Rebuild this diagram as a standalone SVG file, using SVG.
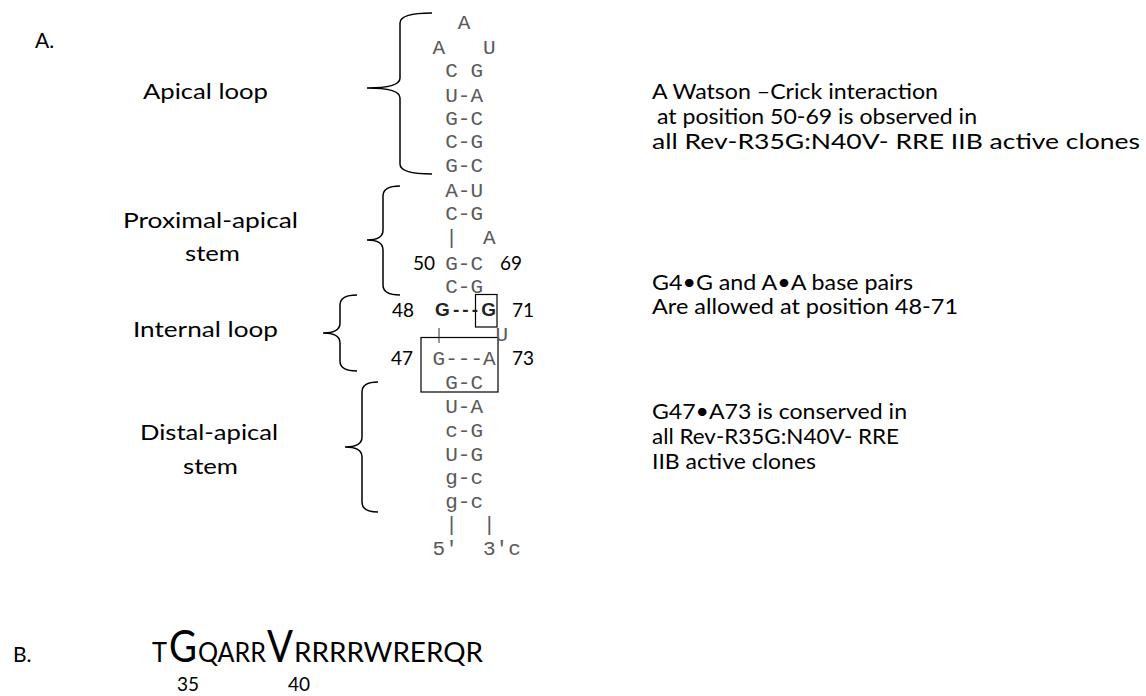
<svg xmlns="http://www.w3.org/2000/svg" width="1146" height="696" viewBox="0 0 1146 696">
<style>
.lbl{font-family:Lato,"Liberation Sans",sans-serif;font-size:21px;fill:#000}
.num{font-family:Lato,"Liberation Sans",sans-serif;font-size:19px;fill:#000}
.seq{font-family:"Liberation Mono","DejaVu Sans Mono",monospace;font-size:21px;fill:#5a5a5a}
.bold{font-family:"Liberation Sans",Arial,sans-serif;font-size:19px;font-weight:bold;fill:#222}
.brace{fill:none;stroke:#000;stroke-width:1.5}
.box{fill:#fff;stroke:#000;stroke-width:1.2}
.bigB{font-family:Lato,"Liberation Sans",sans-serif;fill:#000}
</style>
<rect width="1146" height="696" fill="#fff"/>

<text class="lbl" x="35" y="48">A.</text>
<text class="lbl" x="13" y="662">B.</text>

<g id="braces">
<path class="brace" d="M432,13 Q400,13 400,23 L400,78 Q400,88 367,88 Q400,88 400,98 L400,164 Q400,174 432,174"/>
<path class="brace" d="M400,186 Q383,186 383,196 L383,230 Q383,240 367,240 Q383,240 383,250 L383,285 Q383,295 400,295"/>
<path class="brace" d="M357,295 Q340,295 340,305 L340,323 Q340,333 323,333 Q340,333 340,343 L340,361 Q340,371 357,371"/>
<path class="brace" d="M378,382 Q362,382 362,392 L362,437 Q362,447 345,447 Q362,447 362,457 L362,502 Q362,512 378,512"/>
</g>

<g id="labels-left">
<text class="lbl" x="143" y="99" textLength="125" lengthAdjust="spacingAndGlyphs">Apical loop</text>
<text class="lbl" x="123" y="228" textLength="175" lengthAdjust="spacingAndGlyphs">Proximal-apical</text>
<text class="lbl" x="185" y="261" textLength="55" lengthAdjust="spacingAndGlyphs">stem</text>
<text class="lbl" x="133" y="337" textLength="145" lengthAdjust="spacingAndGlyphs">Internal loop</text>
<text class="lbl" x="140" y="440" textLength="138" lengthAdjust="spacingAndGlyphs">Distal-apical</text>
<text class="lbl" x="183" y="474" textLength="55" lengthAdjust="spacingAndGlyphs">stem</text>
</g>

<g id="boxes">
<rect class="box" x="421" y="337.5" width="77" height="54.5"/>
<rect class="box" x="475.5" y="294.5" width="21.5" height="32.5" style="fill:none"/>
</g>

<g id="rna">
<text class="seq" x="457.8" y="29">A</text>
<text class="seq" x="432.6" y="54" xml:space="preserve">A   U</text>
<text class="seq" x="445.2" y="77" xml:space="preserve">C G</text>
<text class="seq" x="445.2" y="101.5">U-A</text>
<text class="seq" x="445.2" y="124.5">G-C</text>
<text class="seq" x="445.2" y="148">C-G</text>
<text class="seq" x="445.2" y="171.5">G-C</text>
<text class="seq" x="445.2" y="196.5">A-U</text>
<text class="seq" x="445.2" y="220">C-G</text>
<text class="seq" x="445.2" y="244" xml:space="preserve">|  A</text>
<text class="seq" x="445.2" y="269.5">G-C</text>
<text class="seq" x="445.2" y="293">C-G</text>
<text class="bold" x="435" y="316" textLength="61" lengthAdjust="spacing">G---G</text>
<text class="seq" x="495.5" y="341">U</text>
<line x1="439" y1="328" x2="439" y2="343" stroke="#333" stroke-width="1"/>
<text class="seq" x="432.6" y="364.5">G---A</text>
<text class="seq" x="445.2" y="389">G-C</text>
<text class="seq" x="445.2" y="413">U-A</text>
<text class="seq" x="445.2" y="437">c-G</text>
<text class="seq" x="445.2" y="460.5">U-G</text>
<text class="seq" x="445.2" y="484">g-c</text>
<text class="seq" x="445.2" y="507.5">g-c</text>
<text class="seq" x="445.2" y="531" xml:space="preserve">|  |</text>
<text class="seq" x="432.6" y="555" xml:space="preserve">5′  3′c</text>
</g>

<g id="positions">
<text class="num" x="413" y="270">50</text>
<text class="num" x="500" y="270">69</text>
<text class="num" x="392" y="317">48</text>
<text class="num" x="512" y="317">71</text>
<text class="num" x="391" y="365">47</text>
<text class="num" x="512" y="365">73</text>
</g>

<g id="notes">
<text class="lbl" x="652" y="99" textLength="286" lengthAdjust="spacingAndGlyphs">A Watson –Crick interaction</text>
<text class="lbl" x="657" y="124" textLength="320" lengthAdjust="spacingAndGlyphs">at position 50-69 is observed  in</text>
<text class="lbl" x="652" y="149" textLength="488" lengthAdjust="spacingAndGlyphs">all Rev-R35G:N40V- RRE  IIB active clones</text>
<text class="lbl" x="652" y="290" textLength="261" lengthAdjust="spacingAndGlyphs">G4•G and A•A base pairs</text>
<text class="lbl" x="652" y="314" textLength="306" lengthAdjust="spacingAndGlyphs">Are allowed at position 48-71</text>
<text class="lbl" x="652" y="419" textLength="255" lengthAdjust="spacingAndGlyphs">G47•A73 is conserved  in</text>
<text class="lbl" x="652" y="444" textLength="247" lengthAdjust="spacingAndGlyphs">all Rev-R35G:N40V- RRE</text>
<text class="lbl" x="652" y="469" textLength="164" lengthAdjust="spacingAndGlyphs">IIB active clones</text>
</g>

<g id="sequence-b">
<text class="bigB" x="152" y="662" font-size="26" textLength="15" lengthAdjust="spacingAndGlyphs">T</text>
<text class="bigB" x="169" y="662" font-size="45" textLength="28" lengthAdjust="spacingAndGlyphs">G</text>
<text class="bigB" x="198" y="662" font-size="26" textLength="68" lengthAdjust="spacingAndGlyphs">QARR</text>
<text class="bigB" x="267" y="662" font-size="45" textLength="26" lengthAdjust="spacingAndGlyphs">V</text>
<text class="bigB" x="294" y="662" font-size="26" textLength="189" lengthAdjust="spacingAndGlyphs">RRRRWRERQR</text>
<text class="num" x="177" y="691" font-size="17">35</text>
<text class="num" x="288" y="691" font-size="17">40</text>
</g>
</svg>
